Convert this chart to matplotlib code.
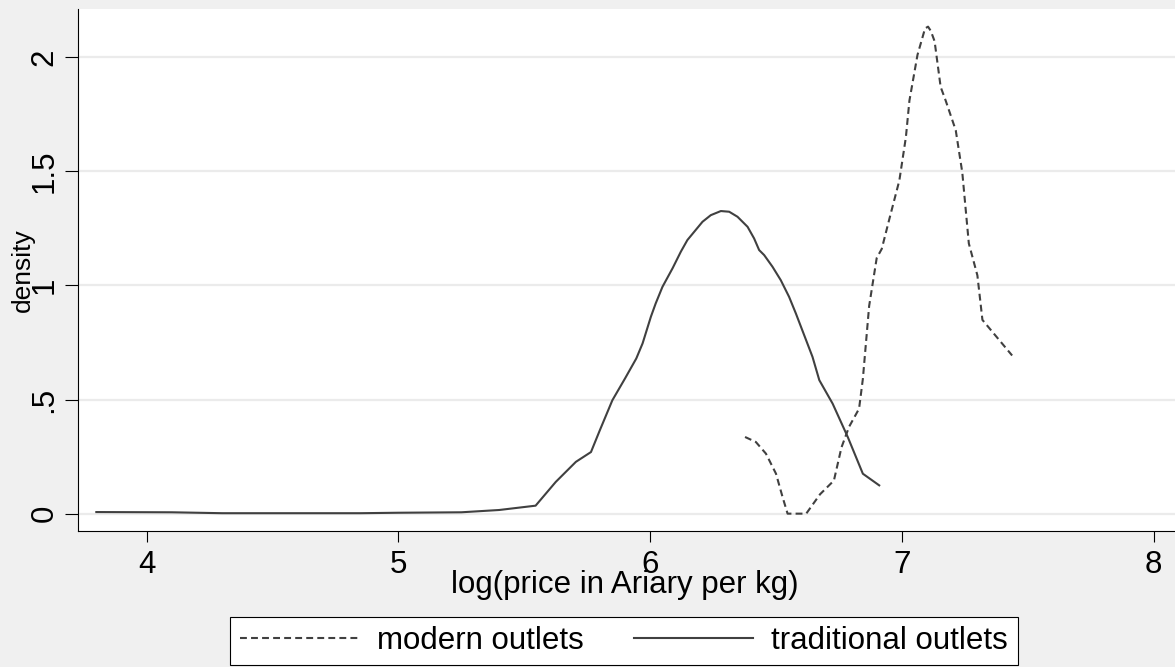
import matplotlib
matplotlib.use("Agg")
import matplotlib.pyplot as plt

plt.rcParams['font.family'] = ['Liberation Sans', 'DejaVu Sans']

# traditional outlets (solid)
trad_x = [3.80, 4.10, 4.30, 4.60, 4.85, 5.00, 5.25, 5.40, 5.545, 5.625, 5.705,
          5.765, 5.80, 5.85, 5.90, 5.945, 5.97, 6.003, 6.022, 6.049, 6.089,
          6.122, 6.148, 6.181, 6.208, 6.241, 6.281, 6.314, 6.347, 6.387, 6.413,
          6.433, 6.453, 6.486, 6.519, 6.552, 6.579, 6.612, 6.645, 6.672, 6.725,
          6.785, 6.845, 6.91]
trad_y = [0.007, 0.006, 0.002, 0.002, 0.002, 0.004, 0.006, 0.016, 0.035, 0.139,
          0.227, 0.270, 0.365, 0.497, 0.592, 0.680, 0.746, 0.863, 0.921, 0.994,
          1.075, 1.148, 1.199, 1.243, 1.279, 1.308, 1.326, 1.323, 1.301, 1.257,
          1.206, 1.155, 1.133, 1.082, 1.023, 0.950, 0.877, 0.782, 0.687, 0.585,
          0.482, 0.336, 0.175, 0.124]

# modern outlets (dashed)
mod_x = [6.377, 6.42, 6.46, 6.50, 6.526, 6.546, 6.62, 6.675, 6.73, 6.76, 6.79,
         6.83, 6.845, 6.87, 6.90, 6.92, 6.95, 6.99, 7.016, 7.03, 7.062, 7.092,
         7.104, 7.115, 7.13, 7.154, 7.174, 7.214, 7.24, 7.266, 7.30, 7.32,
         7.385, 7.438]
mod_y = [0.336, 0.314, 0.263, 0.175, 0.073, 0.0, 0.0, 0.085, 0.145, 0.29, 0.38,
         0.46, 0.59, 0.91, 1.12, 1.16, 1.29, 1.46, 1.65, 1.81, 2.01, 2.126,
         2.134, 2.115, 2.07, 1.87, 1.81, 1.68, 1.495, 1.184, 1.044, 0.849,
         0.763, 0.693]

x_ticks = [4, 5, 6, 7, 8]
x_tick_labels = ["4", "5", "6", "7", "8"]
y_ticks = [0, 0.5, 1, 1.5, 2]
y_tick_labels = ["0", ".5", "1", "1.5", "2"]

BG = '#f0f0f0'
LC = '#404040'
FS = 22.5

W, H = 1175, 667
fig = plt.figure(figsize=(W / 100, H / 100), dpi=100, facecolor=BG)
ax = fig.add_axes([77.7 / W, 1 - 531 / H, 1 - 77.7 / W, (531 - 9.3) / H])
ax.set_facecolor('white')

ax.set_xlim(3.726, 8.085)
ax.set_ylim(-0.076, 2.210)

ax.grid(axis='y', color='#ebebeb', linewidth=1.6, zorder=0)
ax.set_axisbelow(True)

l1, = ax.plot(mod_x, mod_y, color=LC, linewidth=1.5, dashes=(3.3, 2.0),
              label='modern outlets', zorder=3)
l2, = ax.plot(trad_x, trad_y, color=LC, linewidth=1.5,
              label='traditional outlets', zorder=3)

for s in ['top', 'right']:
    ax.spines[s].set_visible(False)
for s in ['left', 'bottom']:
    ax.spines[s].set_linewidth(0.8)
    ax.spines[s].set_color('black')

ax.set_xticks(x_ticks)
ax.set_xticklabels(x_tick_labels, fontsize=FS)
ax.set_yticks(y_ticks)
ax.set_yticklabels(y_tick_labels, fontsize=FS, rotation=90, va='center')
ax.tick_params(axis='x', length=7.7, width=0.8, pad=6, colors='black')
ax.tick_params(axis='y', length=9.2, width=0.8, pad=4, colors='black')

fig.text(625 / W, 1 - 593 / H, 'log(price in Ariary per kg)', fontsize=FS,
         ha='center', va='baseline')
fig.text(23 / W, 1 - 270 / H, 'density', fontsize=19, rotation=90,
         ha='center', va='center')

leg = fig.legend(handles=[l1, l2], loc='center',
                 bbox_to_anchor=(624 / W, 1 - 641 / H), ncol=2, fontsize=FS,
                 frameon=True, fancybox=False, framealpha=1, edgecolor='black',
                 handlelength=3.8, handletextpad=0.6, columnspacing=1.6,
                 borderpad=0.3, borderaxespad=0)
leg.get_frame().set_linewidth(0.8)

fig.savefig('out.png', dpi=100, facecolor=BG)
